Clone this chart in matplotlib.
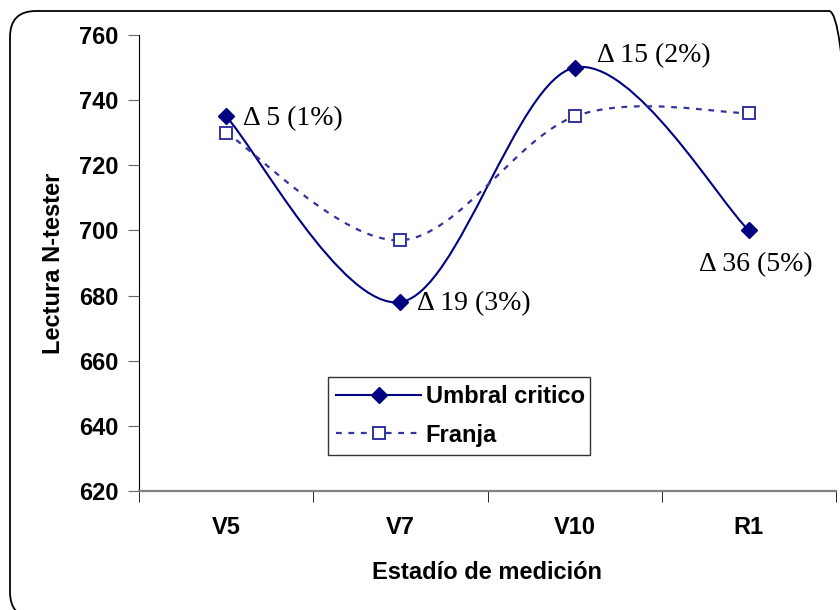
import matplotlib
matplotlib.use("Agg")
import matplotlib.pyplot as plt
from matplotlib.path import Path
from matplotlib.patches import PathPatch, FancyBboxPatch
from matplotlib.lines import Line2D
from matplotlib.transforms import IdentityTransform
import numpy as np

categories = ["V5", "V7", "V10", "R1"]
umbral = [735, 678, 750, 700]
franja = [730, 697, 735, 736]
annotations = ["\u0394 5 (1%)", "\u0394 19 (3%)", "\u0394 15 (2%)", "\u0394 36 (5%)"]
yticks = [620, 640, 660, 680, 700, 720, 740, 760]

c_umbral = "#000080"
c_franja = "#3333A0"
dash = (0, (2.6, 3.0))

def smooth_path(xs, ys):
    pts = np.column_stack([xs, ys]).astype(float)
    n = len(pts)
    verts = [pts[0]]
    codes = [Path.MOVETO]
    for i in range(n - 1):
        p0 = pts[i - 1] if i > 0 else pts[i]
        p1 = pts[i]
        p2 = pts[i + 1]
        p3 = pts[i + 2] if i + 2 < n else pts[i + 1]
        c1 = p1 + (p2 - p0) / 6.0
        c2 = p2 - (p3 - p1) / 6.0
        verts += [c1, c2, p2]
        codes += [Path.CURVE4] * 3
    return Path(verts, codes)

fig = plt.figure(figsize=(8.4, 6.1), dpi=100)
fig.patch.set_facecolor("white")

# rounded outer frame (pixel coordinates, extends past right/bottom edges)
frame = FancyBboxPatch((10, -8), 845, 607,
                       boxstyle="round,pad=0,rounding_size=26",
                       transform=IdentityTransform(), facecolor="none",
                       edgecolor="black", linewidth=1.3, clip_on=False)
fig.patches.append(frame)

ax = fig.add_axes([139 / 840, 1 - 491 / 610, 697 / 840, 456 / 610])
x = np.arange(len(categories))

ax.add_patch(PathPatch(smooth_path(x, umbral), facecolor="none",
                       edgecolor=c_umbral, linewidth=1.5))
ax.add_patch(PathPatch(smooth_path(x, franja), facecolor="none",
                       edgecolor=c_franja, linewidth=1.6, linestyle=dash))
ax.plot(x, umbral, linestyle="none", marker="D", markersize=8.5,
        color=c_umbral, zorder=5)
ax.plot(x, franja, linestyle="none", marker="s", markersize=8,
        markerfacecolor="white", markeredgecolor=c_franja,
        markeredgewidth=1.4, zorder=4)

ax.set_xlim(-0.5, 3.5)
ax.set_ylim(620, 760)
ax.set_yticks(yticks)
ax.set_xticks(x)
ax.set_xticklabels(categories)
ax.set_xticks(np.arange(-0.5, 3.6, 1), minor=True)
ax.tick_params(axis="x", which="major", length=0, pad=18)
ax.tick_params(axis="x", which="minor", length=8, direction="out", color="black")
ax.tick_params(axis="y", length=8, direction="out", color="#666666", pad=7)
for lab in ax.get_xticklabels() + ax.get_yticklabels():
    lab.set_fontsize(17)
    lab.set_fontweight("bold")
    lab.set_fontfamily("Liberation Sans")

for s in ["top", "right"]:
    ax.spines[s].set_visible(False)
ax.spines["left"].set_color("black")
ax.spines["bottom"].set_color("#808080")
ax.spines["bottom"].set_linewidth(1.6)

ax.set_ylabel("Lectura N-tester", fontsize=17, fontweight="bold",
              family="Liberation Sans", labelpad=10)
ax.set_xlabel("Estadío de medición", fontsize=17, fontweight="bold",
              family="Liberation Sans", labelpad=16)

offsets = [(17, -2), (17, -2), (22, 12), (7, -34)]
aligns = ["left", "left", "left", "center"]
for i, txt in enumerate(annotations):
    ax.annotate(txt, (x[i], umbral[i]), xytext=offsets[i],
                textcoords="offset pixels", ha=aligns[i], va="center",
                fontsize=20, family="Liberation Serif")

handles = [
    Line2D([], [], color=c_umbral, linewidth=1.5, marker="D", markersize=8.5),
    Line2D([], [], color=c_franja, linewidth=1.6, linestyle=dash,
           marker="s", markersize=8, markerfacecolor="white",
           markeredgecolor=c_franja, markeredgewidth=1.4),
]
leg = ax.legend(handles, ["Umbral critico", "Franja"],
                loc="lower left", bbox_to_anchor=(0.271, 0.079, 0.376, 0.175),
                mode="expand", handlelength=3.6, handletextpad=0.2,
                borderpad=0.35, labelspacing=0.65, fancybox=False,
                frameon=True, prop={"family": "Liberation Sans",
                                     "weight": "bold", "size": 17},
                borderaxespad=0)
leg.get_frame().set_edgecolor("black")
leg.get_frame().set_linewidth(1.0)

fig.savefig("out.png", dpi=100)
